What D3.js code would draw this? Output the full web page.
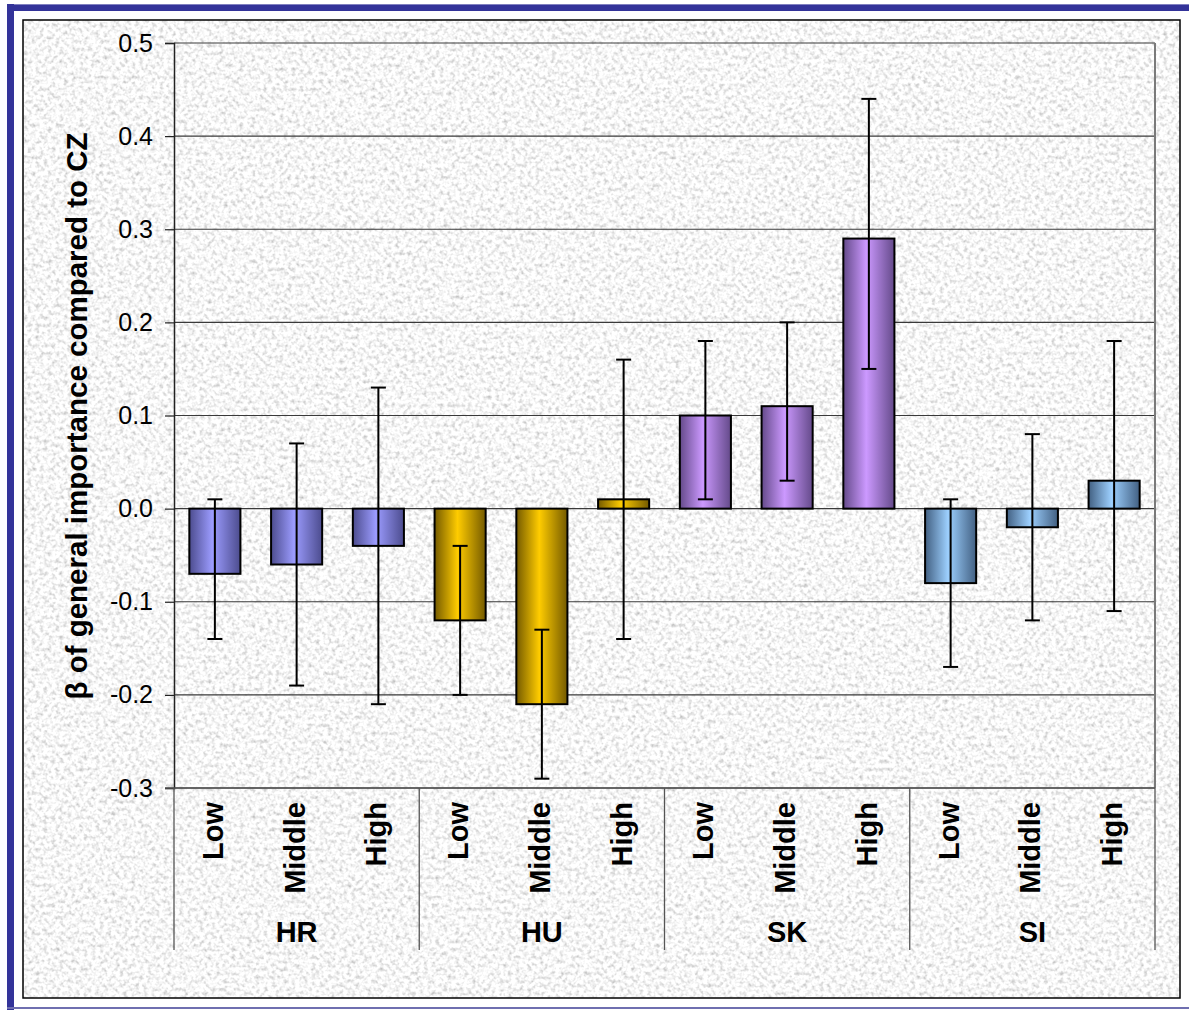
<!DOCTYPE html>
<html>
<head>
<meta charset="utf-8">
<script src="https://cdn.jsdelivr.net/npm/d3@7"></script>
<style>
  html, body { margin: 0; padding: 0; background: #fff; }
  svg { display: block; font-family: "Liberation Sans", Arial, sans-serif; }
</style>
</head>
<body>
<svg id="chart" width="1189" height="1011"></svg>
<script>
// Countries and education levels
const groups = ["HR", "HU", "SK", "SI"];
const levels = ["Low", "Middle", "High"];
// Coefficient per country × level (row = country, column = level)
const betaValues = [
  [-0.07, -0.06, -0.04],
  [-0.12, -0.21,  0.01],
  [ 0.10,  0.11,  0.29],
  [-0.08, -0.02,  0.03]
];
// Lower and upper ends of the error bars
const errLower = [
  [-0.14, -0.19, -0.21],
  [-0.20, -0.29, -0.14],
  [ 0.01,  0.03,  0.15],
  [-0.17, -0.12, -0.11]
];
const errUpper = [
  [ 0.01,  0.07,  0.13],
  [-0.04, -0.13,  0.16],
  [ 0.18,  0.20,  0.44],
  [ 0.01,  0.08,  0.18]
];
const yTicks = [0.5, 0.4, 0.3, 0.2, 0.1, 0.0, -0.1, -0.2, -0.3];
const yTitle = "β of general importance compared to CZ";

// Bar colours per country: [edge, centre]
const groupColors = {
  HR: ["#4c4c8e", "#9c9cff"],
  HU: ["#745a00", "#ffcc00"],
  SK: ["#644a8a", "#cc99ff"],
  SI: ["#426082", "#9dd0ff"]
};

const svg = d3.select("#chart");
const defs = svg.append("defs");

// Mottled grey paper texture, clipped to the shape it is applied to
const tex = defs.append("filter").attr("id", "paper")
  .attr("filterUnits", "userSpaceOnUse")
  .attr("x", 0).attr("y", 0).attr("width", 1189).attr("height", 1011);
tex.append("feTurbulence")
  .attr("type", "fractalNoise").attr("baseFrequency", "0.25")
  .attr("numOctaves", 3).attr("seed", 7).attr("result", "noise");
tex.append("feColorMatrix").attr("in", "noise").attr("type", "matrix")
  .attr("values", "1.0 0 0 0 0.43  1.0 0 0 0 0.43  1.0 0 0 0 0.43  0 0 0 0 1")
  .attr("result", "grey");
tex.append("feComposite").attr("in", "grey").attr("in2", "SourceAlpha").attr("operator", "in");

// Horizontal gradients for the bars
Object.entries(groupColors).forEach(([g, [edge, mid]]) => {
  const lg = defs.append("linearGradient").attr("id", "grad-" + g)
    .attr("x1", "0%").attr("x2", "100%").attr("y1", "0%").attr("y2", "0%");
  lg.append("stop").attr("offset", "0%").attr("stop-color", edge);
  lg.append("stop").attr("offset", "45%").attr("stop-color", mid);
  lg.append("stop").attr("offset", "100%").attr("stop-color", edge);
});

// Outer frame
svg.append("rect").attr("x", 7).attr("y", 4).attr("width", 1182).attr("height", 7).attr("fill", "#333399");
svg.append("rect").attr("x", 7).attr("y", 4).attr("width", 1182).attr("height", 1).attr("fill", "#8080c0");
svg.append("rect").attr("x", 7).attr("y", 4).attr("width", 7).attr("height", 1006).attr("fill", "#333399");
svg.append("rect").attr("x", 7).attr("y", 1007).attr("width", 1182).attr("height", 2).attr("fill", "#6f6fb0");

// Chart area with texture
svg.append("rect").attr("x", 23).attr("y", 20).attr("width", 1157).attr("height", 978)
  .attr("fill", "#e2e2e2").attr("filter", "url(#paper)");
svg.append("rect").attr("x", 23).attr("y", 20).attr("width", 1157).attr("height", 978)
  .attr("fill", "none").attr("stroke", "#000").attr("stroke-width", 1.5);

// Scales
const plotLeft = 174, plotRight = 1155, plotTop = 43, plotBottom = 788;
const y = d3.scaleLinear().domain([-0.3, 0.5]).range([plotBottom, plotTop]);
const categories = [];
groups.forEach((g, gi) => levels.forEach((l, li) => categories.push({
  key: g + "-" + l, group: g, level: l,
  value: betaValues[gi][li], lo: errLower[gi][li], hi: errUpper[gi][li]
})));
const x = d3.scaleBand().domain(categories.map(d => d.key))
  .range([plotLeft, plotRight]).paddingInner(0.375).paddingOuter(0.1875);
const xGroup = d3.scaleBand().domain(groups).range([plotLeft, plotRight]);

// Gridlines
svg.append("g").selectAll("line").data(yTicks).join("line")
  .attr("x1", plotLeft).attr("x2", plotRight)
  .attr("y1", d => y(d)).attr("y2", d => y(d))
  .attr("stroke", "#3a3a3a").attr("stroke-width", 1.2);

// Plot border (right side)
svg.append("line").attr("x1", plotRight).attr("x2", plotRight).attr("y1", plotTop).attr("y2", plotBottom)
  .attr("stroke", "#7a7a7a").attr("stroke-width", 2);

// Y axis (plain hyphen for negatives)
const yAxis = d3.axisLeft(y).tickValues(yTicks)
  .tickFormat(d => (Math.abs(d) < 1e-9 ? 0 : d).toFixed(1))
  .tickSize(9).tickPadding(12);
const yg = svg.append("g").attr("transform", `translate(${plotLeft},0)`).call(yAxis);
yg.select(".domain").attr("stroke", "#222").attr("stroke-width", 1.5);
yg.selectAll(".tick line").attr("stroke", "#222").attr("stroke-width", 1.2);
yg.selectAll(".tick text").attr("font-size", 25).attr("fill", "#000")
  .attr("font-family", "'Liberation Sans', Arial, sans-serif");

// Y title
svg.append("text")
  .attr("transform", `translate(87,416) rotate(-90)`)
  .attr("text-anchor", "middle")
  .attr("font-size", 29.5).attr("font-weight", "bold").text(yTitle);

// Bars
svg.append("g").selectAll("rect").data(categories).join("rect")
  .attr("x", d => x(d.key))
  .attr("width", x.bandwidth())
  .attr("y", d => y(Math.max(0, d.value)))
  .attr("height", d => Math.abs(y(d.value) - y(0)))
  .attr("fill", d => `url(#grad-${d.group})`)
  .attr("stroke", "#000").attr("stroke-width", 2);

// Error bars
const eb = svg.append("g").selectAll("g").data(categories).join("g")
  .attr("transform", d => `translate(${x(d.key) + x.bandwidth() / 2},0)`);
eb.append("line").attr("y1", d => y(d.lo)).attr("y2", d => y(d.hi))
  .attr("stroke", "#000").attr("stroke-width", 2);
eb.append("line").attr("x1", -7.5).attr("x2", 7.5)
  .attr("y1", d => y(d.lo)).attr("y2", d => y(d.lo))
  .attr("stroke", "#000").attr("stroke-width", 2);
eb.append("line").attr("x1", -7.5).attr("x2", 7.5)
  .attr("y1", d => y(d.hi)).attr("y2", d => y(d.hi))
  .attr("stroke", "#000").attr("stroke-width", 2);

// Category axis: baseline and group separators
const catBottom = 950;
svg.append("line").attr("x1", 165).attr("x2", plotRight).attr("y1", plotBottom).attr("y2", plotBottom)
  .attr("stroke", "#555").attr("stroke-width", 1.5);
const seps = groups.map(g => xGroup(g)).concat([plotRight]);
svg.append("g").selectAll("line").data(seps).join("line")
  .attr("x1", d => d).attr("x2", d => d).attr("y1", plotBottom).attr("y2", catBottom)
  .attr("stroke", "#555").attr("stroke-width", 1.3);

// Level labels (rotated)
const step = (plotRight - plotLeft) / categories.length;
svg.append("g").selectAll("text").data(categories).join("text")
  .attr("transform", (d, i) => `translate(${plotLeft + step * (i + 0.5) + 8},802) rotate(-90)`)
  .attr("text-anchor", "end")
  .attr("font-size", 29).attr("font-weight", "bold").text(d => d.level);

// Country labels
svg.append("g").selectAll("text").data(groups).join("text")
  .attr("x", d => xGroup(d) + xGroup.bandwidth() / 2).attr("y", 942)
  .attr("text-anchor", "middle")
  .attr("font-size", 29).attr("font-weight", "bold").text(d => d);
</script>
</body>
</html>
